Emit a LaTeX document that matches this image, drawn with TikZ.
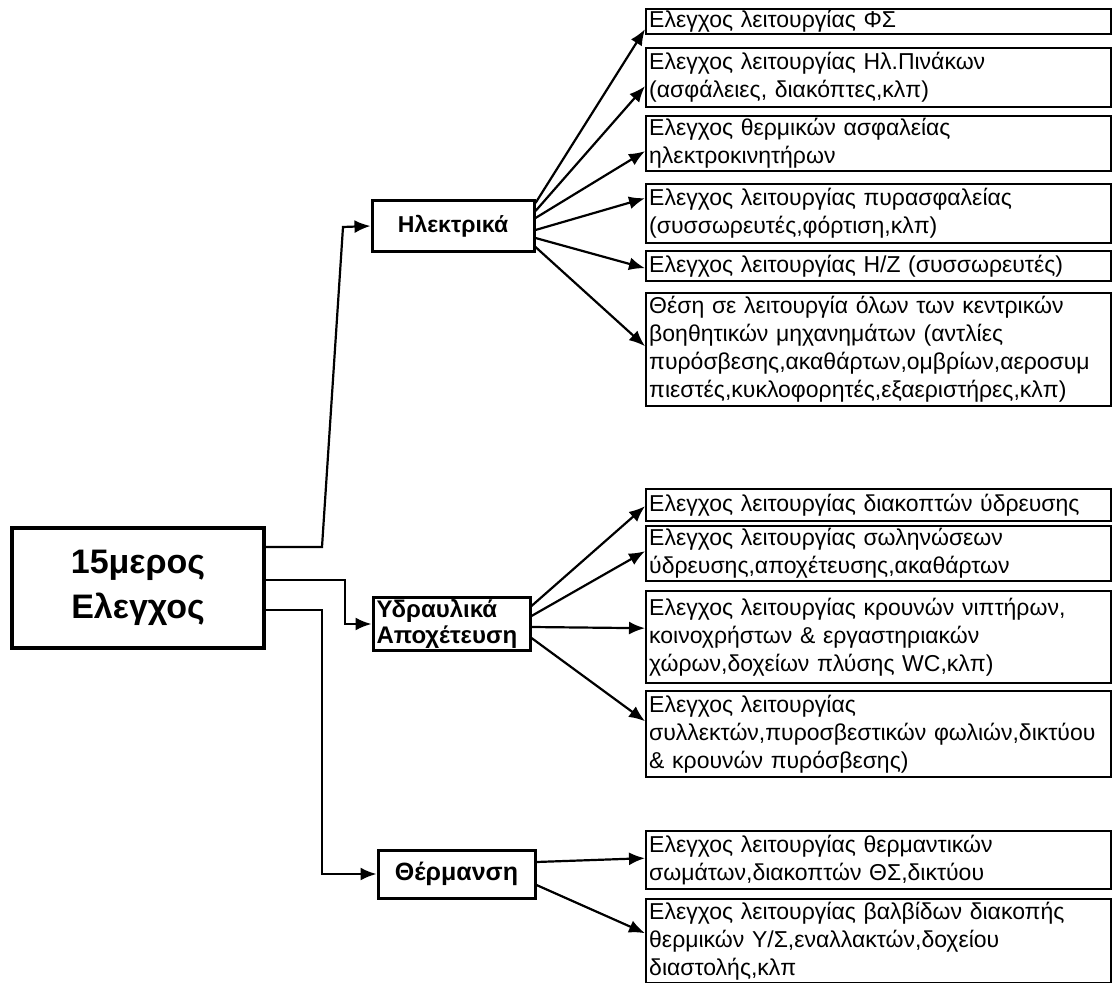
\documentclass[tikz,border=0pt]{standalone}
\usepackage{fontspec}
\setmainfont{Liberation Sans}
\usepackage{tikz}
\usetikzlibrary{positioning,calc,arrows.meta}

\tikzset{
  root/.style={draw, line width=2pt, minimum width=126pt, minimum height=60pt, align=center, font=\bfseries\fontsize{17}{22.5}\selectfont},
  group/.style={draw, line width=1.5pt, font=\bfseries\fontsize{11.5}{13}\selectfont},
  item/.style={draw, line width=1.2pt, anchor=north west, text width=229.5pt, align=left, inner xsep=1.5pt, inner ysep=0pt, font=\fontsize{11.5}{14}\selectfont},
  link/.style={line width=1.1pt, -{Latex[length=8pt,width=6.5pt]}},
}

\begin{document}
\begin{tikzpicture}[x=0.5pt, y=-0.5pt]
\useasboundingbox (0,0) rectangle (1112,983);
\node(root) [root]                                     at (138,588) {15μερος\\Ελεγχος};
\node(Hl)   [group, minimum width=81pt, minimum height=25.5pt] at (453,226) {Ηλεκτρικά};
\node(Yd)   [group, minimum width=78.5pt, minimum height=26.5pt, text width=75pt, inner xsep=1.75pt, inner ysep=0pt, align=left, font=\bfseries\fontsize{12}{13}\selectfont] at (451.5,624) {Υδραυλικά\\Αποχέτευση};
\node(Th)   [group, minimum width=78.5pt, minimum height=24pt, font=\bfseries\fontsize{12.5}{13}\selectfont] at (456.5,874) {Θέρμανση};
% Ηλεκτρικά
\node(e1) [item, minimum height=12.5pt] at (645,8)   {Ελεγχος λειτουργίας ΦΣ};
\node(e2) [item, minimum height=29.5pt] at (645,47)  {Ελεγχος λειτουργίας Ηλ.Πινάκων\\(ασφάλειες, διακόπτες,κλπ)};
\node(e3) [item, minimum height=27.5pt] at (645,115) {Ελεγχος θερμικών ασφαλείας\\ηλεκτροκινητήρων};
\node(e4) [item, minimum height=29.5pt] at (645,183) {Ελεγχος λειτουργίας πυρασφαλείας\\(συσσωρευτές,φόρτιση,κλπ)};
\node(e5) [item, minimum height=15pt]   at (645,250) {Ελεγχος λειτουργίας Η/Ζ (συσσωρευτές)};
\node(e6) [item, minimum height=56.5pt] at (645,292) {Θέση σε λειτουργία όλων των κεντρικών\\βοηθητικών μηχανημάτων (αντλίες\\πυρόσβεσης,ακαθάρτων,ομβρίων,αεροσυμ\\πιεστές,κυκλοφορητές,εξαεριστήρες,κλπ)};
% Υδραυλικά
\node(f1) [item, minimum height=16pt]   at (645,488) {Ελεγχος λειτουργίας διακοπτών ύδρευσης};
\node(f2) [item, minimum height=27.5pt] at (645,525) {Ελεγχος λειτουργίας σωληνώσεων\\ύδρευσης,αποχέτευσης,ακαθάρτων};
\node(f3) [item, minimum height=46pt]   at (645,590) {Ελεγχος λειτουργίας κρουνών νιπτήρων,\\κοινοχρήστων \& εργαστηριακών\\χώρων,δοχείων πλύσης WC,κλπ)};
\node(f4) [item, minimum height=43pt]   at (645,690) {Ελεγχος λειτουργίας\\συλλεκτών,πυροσβεστικών φωλιών,δικτύου\\\& κρουνών πυρόσβεσης)};
% Θέρμανση
\node(g1) [item, minimum height=29pt]   at (645,830) {Ελεγχος λειτουργίας θερμαντικών\\σωμάτων,διακοπτών ΘΣ,δικτύου};
\node(g2) [item, minimum height=42pt]   at (645,898) {Ελεγχος λειτουργίας βαλβίδων διακοπής\\θερμικών Υ/Σ,εναλλακτών,δοχείου\\διαστολής,κλπ};

\coordinate(k1) at (322,547);
\coordinate(k2) at (343,227);
\draw[link] ($(root.east)+(0,-41)$) -- (k1) -- (k2) -- (Hl.west);
\draw[link] ($(root.east)+(0,-8)$) -- ++(79,0) |- (Yd.west);
\draw[link] ($(root.east)+(0,22)$) -- ++(56,0) |- (Th.west);

\foreach \b/\s/\t in {e1/-23/7.5, e2/-15/8.5, e3/-8/7.5, e4/4/-15.5, e5/12/2, e6/21/-3.5}
  \draw[link] ($(Hl.east)+(0,\s)$) -- ($(\b.west)+(0,\t)$);
\foreach \b/\s/\t in {f1/-18/1, f2/-8/-2.5, f3/3/-9, f4/14/-13}
  \draw[link] ($(Yd.east)+(0,\s)$) -- ($(\b.west)+(0,\t)$);
\foreach \b/\s/\t in {g1/-12/-2, g2/11/-8}
  \draw[link] ($(Th.east)+(0,\s)$) -- ($(\b.west)+(0,\t)$);
\end{tikzpicture}
\end{document}
